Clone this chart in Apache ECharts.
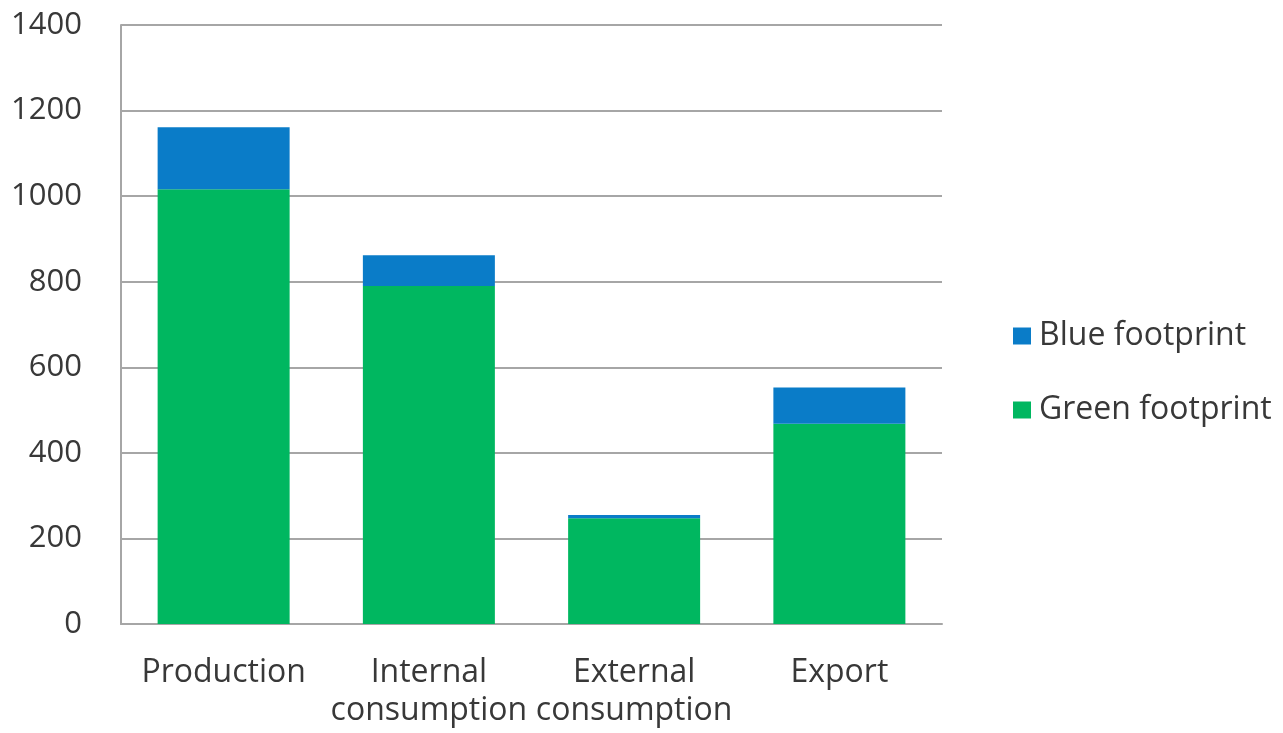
<!DOCTYPE html>
<html>
<head>
<meta charset="utf-8">
<script src="https://cdn.jsdelivr.net/npm/echarts@6/dist/echarts.min.js"></script>
<style>
html,body{margin:0;padding:0;background:#fff;}
#chart{width:1283px;height:733px;}
</style>
</head>
<body>
<div id="chart"></div>
<script>
const categories = ['Production', 'Internal\nconsumption', 'External\nconsumption', 'Export'];
const greenFootprint = [1016, 790, 247, 468];
const blueFootprint = [145, 72, 8, 85];
const yTicks = [0, 200, 400, 600, 800, 1000, 1200, 1400];

const chart = echarts.init(document.getElementById('chart'));
const fontFam = '"Open Sans", "Noto Sans", sans-serif';
chart.setOption({
  animation: false,
  backgroundColor: '#ffffff',
  grid: { left: 121, right: 341, top: 25, bottom: 109, containLabel: false },
  legend: {
    orient: 'vertical',
    left: 1013,
    top: 320,
    padding: 0,
    itemWidth: 18,
    itemHeight: 17,
    itemGap: 42,
    icon: 'rect',
    data: ['Blue footprint', 'Green footprint'],
    textStyle: { fontFamily: fontFam, fontSize: 32, color: '#383838', padding: [0, 0, 0, 3] }
  },
  xAxis: {
    type: 'category',
    data: categories,
    axisLine: { show: true, lineStyle: { color: '#a6a6a6', width: 2 } },
    axisTick: { show: false },
    axisLabel: { fontFamily: fontFam, fontSize: 32, color: '#383838', margin: 30, lineHeight: 38, interval: 0 }
  },
  yAxis: {
    type: 'value',
    min: yTicks[0],
    max: yTicks[yTicks.length - 1],
    interval: 200,
    axisLine: { show: true, lineStyle: { color: '#a6a6a6', width: 2 } },
    axisTick: { show: false },
    splitLine: { show: true, lineStyle: { color: '#a6a6a6', width: 2 } },
    axisLabel: { fontFamily: fontFam, fontSize: 31, color: '#383838', margin: 39, formatter: function (v) { return String(v); } }
  },
  series: [
    {
      name: 'Green footprint',
      type: 'bar',
      stack: 'total',
      data: greenFootprint,
      barWidth: 132,
      itemStyle: { color: '#00B760' }
    },
    {
      name: 'Blue footprint',
      type: 'bar',
      stack: 'total',
      data: blueFootprint,
      barWidth: 132,
      itemStyle: { color: '#0A7CC8' }
    }
  ]
});
</script>
</body>
</html>
